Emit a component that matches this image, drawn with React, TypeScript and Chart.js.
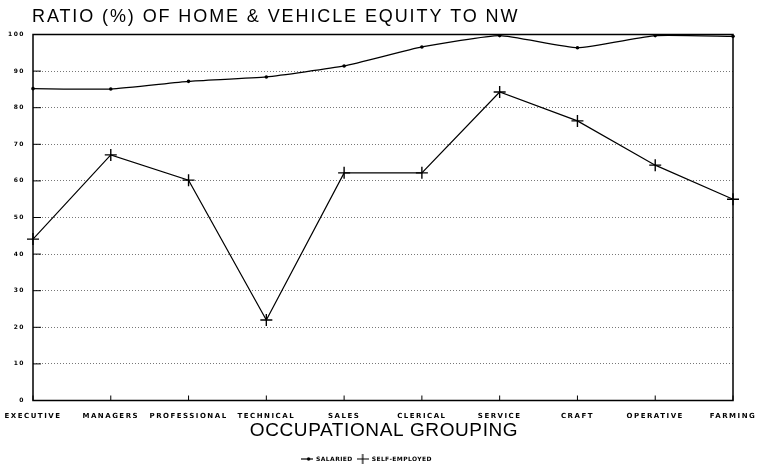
import React, { useEffect, useRef } from "react";
import { Chart, registerables } from "chart.js";

Chart.register(...registerables);

const titleText = "RATIO (%) OF HOME & VEHICLE EQUITY TO NW";
const xTitleText = "OCCUPATIONAL GROUPING";
const categories = [
  "EXECUTIVE",
  "MANAGERS",
  "PROFESSIONAL",
  "TECHNICAL",
  "SALES",
  "CLERICAL",
  "SERVICE",
  "CRAFT",
  "OPERATIVE",
  "FARMING",
];
const salaried = [85.2, 85.1, 87.2, 88.4, 91.4, 96.6, 99.7, 96.4, 99.7, 99.5];
const selfEmployed = [44.1, 67.1, 60.2, 22.0, 62.2, 62.2, 84.3, 76.4, 64.3, 55.0];
const seriesNames = ["SALARIED", "SELF-EMPLOYED"];
const yMin = 0;
const yMax = 100;
const yStep = 10;

function makeSalariedIcon() {
  const c = document.createElement("canvas");
  c.width = 12;
  c.height = 6;
  const g = c.getContext("2d")!;
  g.strokeStyle = "#000";
  g.fillStyle = "#000";
  g.lineWidth = 1.2;
  g.beginPath();
  g.moveTo(0, 3);
  g.lineTo(12, 3);
  g.stroke();
  g.beginPath();
  g.arc(7.5, 3, 1.7, 0, Math.PI * 2);
  g.fill();
  return c;
}

function makeCrossIcon() {
  const c = document.createElement("canvas");
  c.width = 12;
  c.height = 12;
  const g = c.getContext("2d")!;
  g.strokeStyle = "#000";
  g.lineWidth = 1.2;
  g.beginPath();
  g.moveTo(0, 6);
  g.lineTo(12, 6);
  g.moveTo(6, 1);
  g.lineTo(6, 11);
  g.stroke();
  return c;
}

export default function App() {
  const ref = useRef<HTMLCanvasElement>(null);

  useEffect(() => {
    const canvas = ref.current!;
    const iconSal = makeSalariedIcon();
    const iconSelf = makeCrossIcon();

    const framePlugin = {
      id: "frame",
      beforeLayout(chart: any) {
        chart.ctx.letterSpacing = "0.4px";
      },
      beforeDraw(chart: any) {
        const ctx = chart.ctx;
        ctx.save();
        ctx.fillStyle = "#fff";
        ctx.fillRect(0, 0, chart.width, chart.height);
        ctx.restore();
        ctx.letterSpacing = "0.4px";
      },
      beforeDatasetsDraw(chart: any) {
        const { ctx, chartArea: a, scales } = chart;
        ctx.save();
        ctx.setLineDash([]);
        ctx.strokeStyle = "#000";
        ctx.lineWidth = 1.5;
        ctx.strokeRect(a.left, a.top, a.right - a.left, a.bottom - a.top);
        ctx.lineWidth = 1;
        ctx.beginPath();
        scales.x.ticks.forEach((_: any, i: number) => {
          const x = scales.x.getPixelForTick(i);
          ctx.moveTo(x, a.bottom);
          ctx.lineTo(x, a.bottom - 5);
        });
        scales.y.ticks.forEach((_: any, i: number) => {
          const y = scales.y.getPixelForTick(i);
          ctx.moveTo(a.left, y);
          ctx.lineTo(a.left + 8, y);
        });
        ctx.stroke();
        ctx.restore();
      },
      afterDatasetsDraw(chart: any) {
        chart.ctx.letterSpacing = "1.5px";
      },
      afterDraw(chart: any) {
        const { ctx, chartArea: a } = chart;
        ctx.save();
        ctx.fillStyle = "#000";
        ctx.letterSpacing = "1.9px";
        ctx.font = "18px 'Liberation Sans', Arial, sans-serif";
        ctx.textAlign = "left";
        ctx.textBaseline = "alphabetic";
        ctx.fillText(titleText, 32, 22);
        ctx.letterSpacing = "0.6px";
        ctx.font = "19px 'Liberation Sans', Arial, sans-serif";
        ctx.textAlign = "center";
        ctx.fillText(xTitleText, (a.left + a.right) / 2 + 1, 436);
        ctx.restore();
      },
    };

    const tickFont = { family: "'DejaVu Sans', sans-serif", size: 7, weight: "bold" as const };

    const chart = new Chart(canvas, {
      type: "line",
      data: {
        labels: categories,
        datasets: [
          {
            label: seriesNames[0],
            data: salaried,
            borderColor: "#000",
            backgroundColor: "#000",
            borderWidth: 1.3,
            pointStyle: "circle",
            pointRadius: 1.8,
            pointBorderWidth: 0,
            tension: 0.15,
            fill: false,
          },
          {
            label: seriesNames[1],
            data: selfEmployed,
            borderColor: "#000",
            backgroundColor: "#000",
            borderWidth: 1.2,
            pointStyle: "cross",
            pointRadius: 6,
            pointBorderWidth: 1.4,
            tension: 0,
            fill: false,
          },
        ],
      },
      options: {
        animation: false,
        responsive: true,
        maintainAspectRatio: false,
        layout: { padding: { top: 34.5, right: 24, bottom: 0, left: 0 } },
        plugins: {
          title: { display: false },
          tooltip: { enabled: false },
          legend: {
            position: "bottom",
            labels: {
              usePointStyle: true,
              pointStyleWidth: 12,
              boxHeight: 6,
              padding: 4,
              color: "#000",
              font: { family: "'DejaVu Sans', sans-serif", size: 6, weight: "bold" },
              generateLabels: (c: any) => {
                const items = (Chart.defaults.plugins.legend.labels as any).generateLabels(c);
                items.forEach((it: any, i: number) => {
                  it.pointStyle = i === 0 ? iconSal : iconSelf;
                });
                return items;
              },
            },
          },
        },
        scales: {
          x: {
            offset: false,
            grid: { display: false, drawTicks: false },
            border: { display: false },
            ticks: {
              z: 1,
              padding: 11,
              color: "#000",
              font: tickFont,
              maxRotation: 0,
              autoSkip: false,
            },
            afterFit: (s: any) => {
              s.height = 51.5;
              s.paddingLeft = 0;
              s.paddingRight = 0;
            },
          },
          y: {
            min: yMin,
            max: yMax,
            ticks: {
              z: 1,
              stepSize: yStep,
              padding: 8,
              color: "#000",
              font: { family: "'DejaVu Sans', sans-serif", size: 6, weight: "bold" },
            },
            grid: {
              drawTicks: false,
              lineWidth: 1,
              color: (ctx: any) =>
                ctx.tick && (ctx.tick.value === yMin || ctx.tick.value === yMax)
                  ? "rgba(0,0,0,0)"
                  : "#777",
            },
            border: { display: false, dash: [1, 2] },
            afterFit: (s: any) => {
              s.width = 33;
              s.paddingTop = 0;
              s.paddingBottom = 0;
            },
          },
        },
      },
      plugins: [framePlugin],
    } as any);

    return () => chart.destroy();
  }, []);

  return (
    <div style={{ position: "fixed", left: 0, top: 0, width: 757, height: 472 }}>
      <canvas ref={ref} />
    </div>
  );
}
